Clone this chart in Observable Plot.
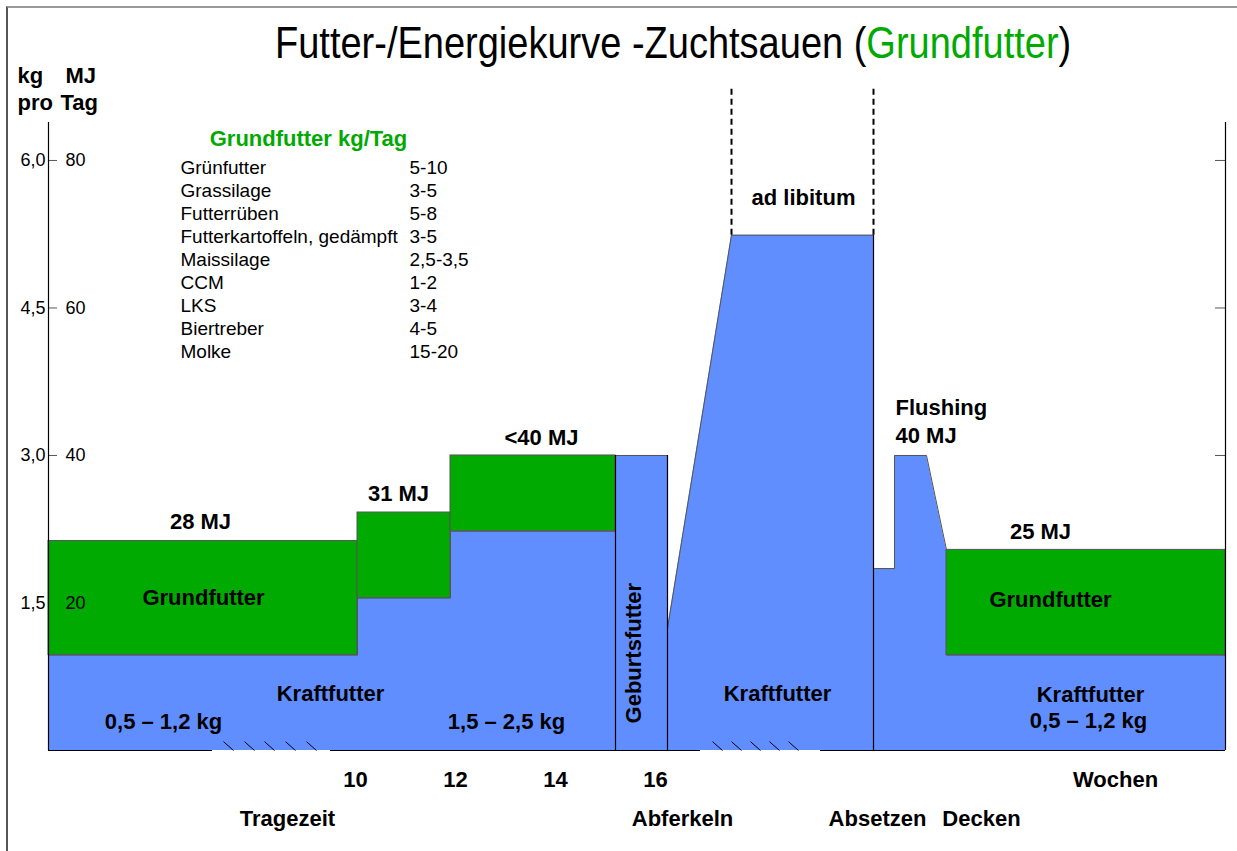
<!DOCTYPE html>
<html>
<head>
<meta charset="utf-8">
<script src="https://cdn.jsdelivr.net/npm/d3@7"></script>
<script src="https://cdn.jsdelivr.net/npm/@observablehq/plot@0.6"></script>
<style>
  html, body { margin: 0; padding: 0; background: #fff; }
  #wrap { position: relative; width: 1237px; height: 851px; overflow: hidden; font-family: "Liberation Sans", Arial, sans-serif; }
  #border { position: absolute; left: 6px; top: 6px; width: 1250px; height: 860px; border-left: 2px solid #555; border-top: 2px solid #999; pointer-events: none; }
  #title { position: relative; height: 56px; }
  #title span { position: absolute; left: 275px; top: 26px; font-size: 38px; line-height: 38px; white-space: nowrap; color: #000; transform: scale(1, 1.15); transform-origin: left 32px; }
  #title .g { position: static; color: #00aa00; transform: none; }
  #chart { position: relative; }
</style>
</head>
<body>
<div id="wrap">
  <div id="border"></div>
  <div id="title"><span>Futter-/Energiekurve -Zuchtsauen (<b class="g" style="font-weight:normal">Grundfutter</b>)</span></div>
  <div id="chart"></div>
</div>
<script>
// ---- data (x in weeks, y in kg/day) ----
const xStart = 3.86, xEnd = 27.4;
const yTop = 6.386;

// Kraftfutter (blue) outline: weeks / kg
const kraftWeek = [3.86, 10.04, 10.04, 11.9, 11.9, 15.2, 15.2, 16.24, 16.24, 17.52, 20.36, 20.36, 20.78, 20.78, 21.42, 21.82, 21.82, 27.4];
const kraftKg   = [0.97, 0.97,  1.55,  1.55, 2.23, 2.23, 3.0,  3.0,   1.24,  5.24,  5.24,  1.85,  1.85,  3.0,   3.0,   2.04,  0.97,  0.97];

// Grundfutter (green) blocks
const grundFrom = [3.86, 10.04, 11.9, 21.82];
const grundTo   = [10.04, 11.9, 15.2, 27.4];
const grundLow  = [0.97, 1.55, 2.23, 0.97];
const grundHigh = [2.13, 2.42, 3.0, 2.04];

// black separators (week, height kg)
const sepWeek = [15.2, 16.24, 20.36];
const sepKg   = [3.0, 3.0, 5.24];

// ad libitum dashed markers
const adLibWeek = [17.52, 20.36];
const adLibFrom = 5.24, adLibTo = 6.76;

// baseline segments (with axis breaks)
const baseFrom = [3.86, 9.5, 19.3];
const baseTo   = [7.14, 16.9, 27.4];
const breakWeek = [7.36, 7.78, 8.18, 8.6, 9.02, 17.14, 17.52, 17.9, 18.28, 18.66];

// y ticks
const kgTicks = [1.5, 3.0, 4.5, 6.0];
const kgTickLabels = ["1,5", "3,0", "4,5", "6,0"];
const mjTickLabels = ["20", "40", "60", "80"];

// x labels
const weekTicks = [10, 12, 14, 16];
const phaseLabels = ["Tragezeit", "Abferkeln", "Absetzen", "Decken"];
const phaseWeek = [8.64, 16.54, 20.44, 22.52];

// annotations in the chart
const annText = ["28 MJ", "31 MJ", "<40 MJ", "Grundfutter", "Kraftfutter", "0,5 – 1,2 kg", "1,5 – 2,5 kg",
                 "Kraftfutter", "ad libitum", "25 MJ", "Grundfutter", "Kraftfutter", "0,5 – 1,2 kg"];
const annWeek = [6.9, 10.86, 13.72, 6.96, 9.5, 6.16, 13.02, 18.44, 18.96, 23.7, 23.9, 24.7, 24.66];
const annKg   = [2.32, 2.61, 3.18, 1.55, 0.58, 0.295, 0.295, 0.58, 5.62, 2.22, 1.53, 0.56, 0.305];

// Grundfutter list
const feedNames  = ["Grünfutter", "Grassilage", "Futterrüben", "Futterkartoffeln, gedämpft", "Maissilage", "CCM", "LKS", "Biertreber", "Molke"];
const feedValues = ["5-10", "3-5", "5-8", "3-5", "2,5-3,5", "1-2", "3-4", "4-5", "15-20"];

// ---- build ----
const blue = "#618eff", green = "#00aa00";
const FONT = "Liberation Sans, Arial, sans-serif";
const kraft = kraftWeek.map((w, i) => ({w, kg: kraftKg[i]}));
const grund = grundFrom.map((f, i) => ({x1: f, x2: grundTo[i], y1: grundLow[i], y2: grundHigh[i]}));
const seps = sepWeek.map((w, i) => ({w, kg: sepKg[i]}));
const base = baseFrom.map((f, i) => ({x1: f, x2: baseTo[i]}));
const ticks = kgTicks.map((k, i) => ({k, kgL: kgTickLabels[i], mjL: mjTickLabels[i]}));
const ann = annText.map((t, i) => ({t, w: annWeek[i], kg: annKg[i]}));
const feeds = feedNames.map((n, i) => ({n, v: feedValues[i], kg: 5.92 - i * 0.2335}));
const boldTxt = {fontSize: 22, fontWeight: "bold", fill: "#000"};

const plot = Plot.plot({
  width: 1237,
  height: 795,
  marginLeft: 48,
  marginRight: 12,
  marginTop: 66,
  marginBottom: 101,
  style: {fontFamily: FONT, background: "transparent", overflow: "visible"},
  x: {domain: [xStart, xEnd], axis: null},
  y: {domain: [0, yTop], axis: null},
  marks: [
    // ticks
    Plot.ruleY(ticks, {y: "k", x1: xStart, x2: xStart + 0.18, stroke: "#555"}),
    Plot.ruleY(ticks, {y: "k", x1: xEnd - 0.2, x2: xEnd, stroke: "#555"}),
    // blue Kraftfutter
    Plot.areaY(kraft, {x: "w", y1: 0, y2: "kg", fill: blue}),
    Plot.line(kraft, {x: "w", y: "kg", stroke: "#555", strokeWidth: 1}),
    // green Grundfutter
    Plot.rect(grund, {x1: "x1", x2: "x2", y1: "y1", y2: "y2", fill: green, stroke: "#555", strokeWidth: 1}),
    // separators
    Plot.ruleX(seps, {x: "w", y1: 0, y2: "kg", stroke: "#000", strokeWidth: 1.2}),
    Plot.ruleX(adLibWeek, {y1: adLibFrom, y2: adLibTo, stroke: "#000", strokeWidth: 2, strokeDasharray: "6,4"}),
    // axes
    Plot.ruleX([xStart, xEnd], {y1: 0, y2: yTop, stroke: "#000", strokeWidth: 1.2}),
    Plot.ruleY(base, {y: 0, x1: "x1", x2: "x2", stroke: "#000", strokeWidth: 1.2}),
    Plot.link(breakWeek, {x1: d => d, x2: d => d + 0.2, y1: 0.09, y2: 0, stroke: "#000", strokeWidth: 1}),
    // tick labels
    Plot.text(ticks, {x: xStart, y: "k", text: "kgL", textAnchor: "end", dx: -3, fontSize: 18, fill: "#000"}),
    Plot.text(ticks, {x: xStart, y: "k", text: "mjL", textAnchor: "start", dx: 17, fontSize: 18, fill: "#000"}),
    Plot.text(["kg"], {x: xStart, y: 6.86, textAnchor: "start", dx: -31, ...boldTxt}),
    Plot.text(["MJ"], {x: xStart, y: 6.86, textAnchor: "start", dx: 17, ...boldTxt}),
    Plot.text(["pro"], {x: xStart, y: 6.58, textAnchor: "start", dx: -31, ...boldTxt}),
    Plot.text(["Tag"], {x: xStart, y: 6.58, textAnchor: "start", dx: 12, ...boldTxt}),
    // x labels
    Plot.text(weekTicks, {x: d => d, y: 0, dy: 29, text: d => String(d), ...boldTxt}),
    Plot.text(["Wochen"], {x: 25.2, y: 0, dy: 29, ...boldTxt}),
    Plot.text(phaseLabels, {x: (d, i) => phaseWeek[i], y: 0, dy: 68, text: d => d, ...boldTxt}),
    // annotations
    Plot.text(ann, {x: "w", y: "kg", text: "t", ...boldTxt}),
    Plot.text(["Geburtsfutter"], {x: 15.56, y: 0.99, rotate: -90, ...boldTxt}),
    Plot.text(["Flushing"], {x: 20.8, y: 3.48, textAnchor: "start", ...boldTxt}),
    Plot.text(["40 MJ"], {x: 20.8, y: 3.2, textAnchor: "start", ...boldTxt}),
    // Grundfutter list
    Plot.text(["Grundfutter kg/Tag"], {x: 9.06, y: 6.22, fontSize: 22, fontWeight: "bold", fill: green}),
    Plot.text(feeds, {x: 6.5, y: "kg", text: "n", textAnchor: "start", fontSize: 19, fill: "#000"}),
    Plot.text(feeds, {x: 11.08, y: "kg", text: "v", textAnchor: "start", fontSize: 19, fill: "#000"})
  ]
});
document.getElementById("chart").appendChild(plot);
</script>
</body>
</html>
